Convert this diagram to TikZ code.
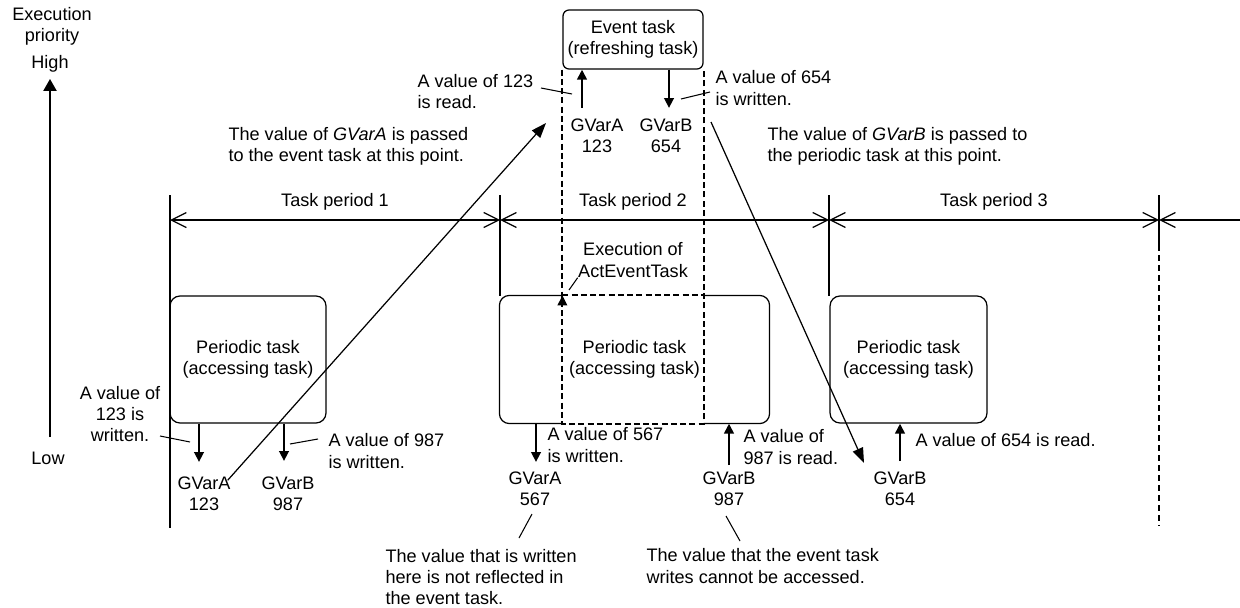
\documentclass[tikz,border=0pt]{standalone}
\usepackage{fontspec}
\setmainfont{Liberation Sans}
\usetikzlibrary{arrows.meta,positioning}

\tikzset{
  lbl/.style={inner sep=0pt, font=\fontsize{10.3}{12}\selectfont, align=center},
  lbll/.style={lbl, align=left, anchor=west},
  taskbox/.style={lbl, draw, rounded corners=0.2cm, minimum width=3.12cm, minimum height=2.54cm, line width=0.7pt},
  barb/.tip={Straight Barb[length=0.3cm,width=0.3cm]},
  dimline/.style={line width=0.7pt, barb-barb},
  rw/.style={line width=1.6pt, -{Triangle[length=0.2cm,width=0.19cm]}},
  pass/.style={line width=0.7pt, -{Triangle[length=0.3cm,width=0.22cm]}},
  lead/.style={line width=0.6pt},
  evdash/.style={dash pattern=on 0.12cm off 0.065cm, line width=1.2pt},
}

\begin{document}
\begin{tikzpicture}[x=0.02cm, y=-0.02cm, line width=0.6pt]
  \useasboundingbox (0,0) rectangle (1240,608);

  % priority axis
  \node[lbl] (prio) at (52,26) {Execution\\priority};
  \node[lbl] (high) at (50,64) {High};
  \node[lbl] (low) at (48,458) {Low};
  \coordinate (axbot) at (50,437);
  \draw[line width=1.3pt, -{Triangle[length=0.24cm,width=0.26cm]}, shorten >=0.12cm] (axbot) -- (high);

  % task periods
  \foreach \x/\n in {170/p1, 500/p2, 829/p3, 1159/p4} {
    \coordinate (\n) at (\x,220);
  }
  \coordinate (pend) at (1240,220);
  \draw (170,195) -- (170,528);
  \draw (500,195) -- (500,296);
  \draw (829,195) -- (829,296);
  \draw (1159,195) -- (1159,245);
  \draw[dash pattern=on 0.12cm off 0.08cm] (1159,245) -- (1159,525);
  \draw[dimline] (p1) -- (p2);
  \draw[dimline] (p2) -- (p3);
  \draw[dimline] (p3) -- (p4);
  \draw[line width=0.7pt, barb-] (p4) -- (pend);
  \node[lbl] (tp1) at (335,202) {Task period 1};
  \node[lbl] (tp2) at (633,202) {Task period 2};
  \node[lbl] (tp3) at (994,202) {Task period 3};

  % event task
  \node[lbl, draw, rounded corners=0.12cm, minimum width=2.8cm, minimum height=1.18cm, line width=0.7pt] (ev) at (633,39.5) {Event task\\(refreshing task)};

  % periodic tasks
  \node[taskbox] (box1) at (248,359.5) {Periodic task\\(accessing task)};
  \node[taskbox, draw=none, minimum width=5.38cm] (box2) at (634.5,359.5) {Periodic task\\(accessing task)};
  \node[taskbox, minimum width=3.14cm] (box3) at (908.5,359.5) {Periodic task\\(accessing task)};
  \draw[rounded corners=0.2cm, line width=0.7pt] (ev.south west |- box2.north) -- (box2.north west) -- (box2.south west) -- (ev.south west |- box2.south);
  \draw[rounded corners=0.2cm, line width=0.7pt] (ev.south east |- box2.north) -- (box2.north east) -- (box2.south east) -- (ev.south east |- box2.south);
  \draw[evdash] (ev.south west) -- (ev.south west |- box2.south) -- (ev.south east |- box2.south) -- (ev.south east);
  \draw[evdash] (ev.south west |- box2.north) -- (ev.south east |- box2.north);
  \draw[line width=1pt, -{Triangle[length=0.2cm,width=0.19cm]}] (ev.south west |- box2.north) ++(0,12) -- ++(0,-12);
  \node[lbl] (exe) at (633,260) {Execution of\\ActEventTask};
  \coordinate (exeL) at (569,290);
  \draw[lead] (exeL) -- (exe.south west);

  % event task access
  \coordinate (rdA) at (582,108);
  \coordinate (wrB) at (669,108);
  \draw[rw] (rdA) -- (rdA |- ev.south);
  \draw[rw] (wrB |- ev.south) -- (wrB);
  \node[lbl] (egA) at (597,136) {GVarA\\123};
  \node[lbl] (egB) at (666,136) {GVarB\\654};
  \node[lbll] (rd123) at (417,91.5) {A value of 123\\is read.};
  \node[lbll] (wr654) at (715,88) {A value of 654\\is written.};
  \coordinate (rd123a) at (541,88);
  \coordinate (rd123b) at (572,94);
  \coordinate (wr654a) at (681,99);
  \coordinate (wr654b) at (710,92);
  \draw[lead] (rd123a) -- (rd123b);
  \draw[lead] (wr654a) -- (wr654b);
  \node[lbll] (passA) at (228,146) {The value of \textit{GVarA} is passed\\to the event task at this point.};
  \node[lbll] (passB) at (767,146) {The value of \textit{GVarB} is passed to\\the periodic task at this point.};

  % period 1
  \coordinate (w1A) at (199,462);
  \coordinate (w1B) at (284,461);
  \draw[rw] (w1A |- box1.south) -- (w1A);
  \draw[rw] (w1B |- box1.south) -- (w1B);
  \node[lbl] (wr123) at (120,414) {A value of\\123 is\\written.};
  \node[lbll] (wr987) at (328,451) {A value of 987\\is written.};
  \node[lbl] (g1A) at (204,494) {GVarA\\123};
  \node[lbl] (g1B) at (288,494) {GVarB\\987};
  \coordinate (wr123a) at (160,436);
  \coordinate (wr123b) at (190,442);
  \coordinate (wr987a) at (290,444);
  \coordinate (wr987b) at (318,439);
  \draw[lead] (wr123a) -- (wr123b);
  \draw[lead] (wr987a) -- (wr987b);

  % period 2
  \coordinate (w2A) at (536,462);
  \coordinate (r2B) at (729,465);
  \draw[rw] (w2A |- box2.south) -- (w2A);
  \draw[rw] (r2B) -- (r2B |- box2.south);
  \node[lbll] (wr567) at (547,445) {A value of 567\\is written.};
  \node[lbll] (rd987) at (743,447) {A value of\\987 is read.};
  \node[lbl] (g2A) at (535,488.5) {GVarA\\567};
  \node[lbl] (g2B) at (729,488.5) {GVarB\\987};
  \node[lbll] (note1) at (385,577) {The value that is written\\here is not reflected in\\the event task.};
  \node[lbll] (note2) at (646,566) {The value that the event task\\writes cannot be accessed.};
  \coordinate (note1a) at (532,514);
  \coordinate (note1b) at (519,538);
  \coordinate (note2a) at (726,516);
  \coordinate (note2b) at (740,541);
  \draw[lead] (note1a) -- (note1b);
  \draw[lead] (note2a) -- (note2b);

  % period 3
  \coordinate (r3B) at (900,461);
  \draw[rw] (r3B) -- (r3B |- box3.south);
  \node[lbll] (rd654) at (915,440) {A value of 654 is read.};
  \node[lbl] (g3B) at (900,489) {GVarB\\654};

  % values passed between tasks
  \coordinate (passAtip) at (546,123);
  \coordinate (passBfrom) at (711,122);
  \coordinate (passBtip) at (864,463);
  \draw[pass, shorten <=-0.1cm] (g1A.north east) -- (passAtip);
  \draw[pass] (passBfrom) -- (passBtip);
\end{tikzpicture}
\end{document}
